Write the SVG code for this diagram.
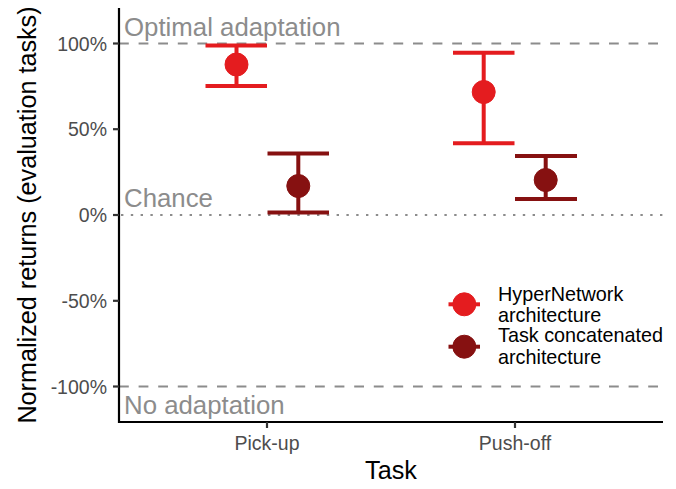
<svg xmlns="http://www.w3.org/2000/svg" width="676" height="489" viewBox="0 0 676 489">
<style>
text{font-family:"Liberation Sans",Arial,sans-serif}
.tick{font-size:19.5px;fill:#4d4d4d}
.ytick{text-anchor:end}
.xtick{text-anchor:middle}
.ann{font-size:25.8px;fill:#8c8c8c}
.title{font-size:25.2px;fill:#000}
.leg{font-size:19.8px;fill:#000}
.dash{stroke:#8c8c8c;stroke-width:2;stroke-dasharray:9.8 9.8;fill:none}
.dot{stroke:#8c8c8c;stroke-width:2;stroke-dasharray:2.4 7.4;fill:none}
.axis{stroke:#000;stroke-width:2.2;fill:none}
.tk{stroke:#333;stroke-width:2.2}
.hn{stroke:#E41C1F;fill:#E41C1F}
.tc{stroke:#861111;fill:#861111}
.bar{stroke-width:4;fill:none}
</style>
<rect width="676" height="489" fill="#fff"/>
<g id="reference-lines">
<line class="dash" x1="119" y1="43.5" x2="663" y2="43.5"/>
<line class="dot" x1="121" y1="215" x2="663" y2="215"/>
<line class="dash" x1="119" y1="386.5" x2="663" y2="386.5"/>
</g>
<g id="annotations">
<text class="ann" x="124" y="35.5">Optimal adaptation</text>
<text class="ann" x="124" y="207">Chance</text>
<text class="ann" x="124" y="414">No adaptation</text>
</g>
<g id="axes">
<polyline class="axis" points="119,8 119,422 663,422"/>
<line class="tk" x1="113" y1="43.5" x2="119" y2="43.5"/>
<line class="tk" x1="113" y1="129.2" x2="119" y2="129.2"/>
<line class="tk" x1="113" y1="215" x2="119" y2="215"/>
<line class="tk" x1="113" y1="300.8" x2="119" y2="300.8"/>
<line class="tk" x1="113" y1="386.5" x2="119" y2="386.5"/>
<line class="tk" x1="267" y1="422" x2="267" y2="428"/>
<line class="tk" x1="515" y1="422" x2="515" y2="428"/>
<text class="tick ytick" x="107" y="50.5">100%</text>
<text class="tick ytick" x="107" y="136.2">50%</text>
<text class="tick ytick" x="107" y="222">0%</text>
<text class="tick ytick" x="107" y="307.8">-50%</text>
<text class="tick ytick" x="107" y="393.5">-100%</text>
<text class="tick xtick" x="267" y="450">Pick-up</text>
<text class="tick xtick" x="515" y="450">Push-off</text>
<text class="title" x="391" y="479" text-anchor="middle">Task</text>
<text class="title" transform="translate(36,215) rotate(-90)" text-anchor="middle">Normalized returns (evaluation tasks)</text>
</g>
<g id="pickup-hypernetwork">
<path class="hn bar" d="M205.5,45.5H267M205.5,86H267M236.5,45.5V86"/>
<circle class="hn" cx="236.5" cy="64.5" r="11.5" stroke="none"/>
</g>
<g id="pickup-concat">
<path class="tc bar" d="M267.5,153.5H329M267.5,212.5H329M298.3,153.5V212.5"/>
<circle class="tc" cx="298.3" cy="186" r="11.5" stroke="none"/>
</g>
<g id="pushoff-hypernetwork">
<path class="hn bar" d="M453,52.7H514.5M453,143.3H514.5M483.7,52.7V143.3"/>
<circle class="hn" cx="483.7" cy="92" r="11.5" stroke="none"/>
</g>
<g id="pushoff-concat">
<path class="tc bar" d="M515,156H577M515,199H577M545.7,156V199"/>
<circle class="tc" cx="545.7" cy="180" r="11.5" stroke="none"/>
</g>
<g id="legend">
<line class="hn bar" x1="448.5" y1="304.3" x2="480" y2="304.3"/>
<circle class="hn" cx="464.3" cy="304.3" r="11.5" stroke="none"/>
<line class="tc bar" x1="448.5" y1="346.7" x2="480" y2="346.7"/>
<circle class="tc" cx="464.3" cy="346.7" r="11.5" stroke="none"/>
<text class="leg" x="498" y="301">HyperNetwork</text>
<text class="leg" x="498" y="322">architecture</text>
<text class="leg" x="498" y="342">Task concatenated</text>
<text class="leg" x="498" y="364">architecture</text>
</g>
</svg>
